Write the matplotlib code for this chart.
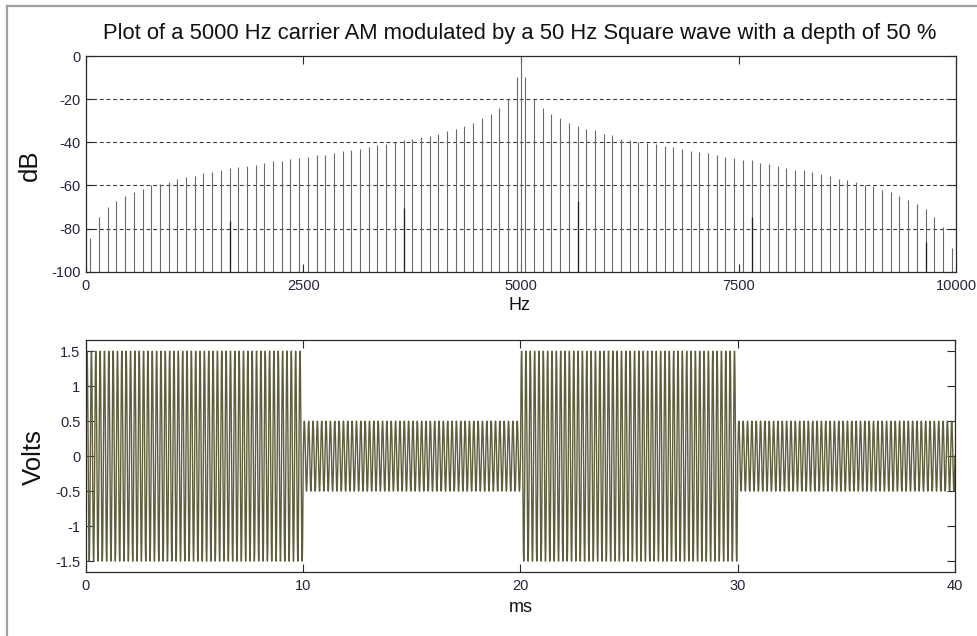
import numpy as np
import matplotlib
matplotlib.use("Agg")
import matplotlib.pyplot as plt
from matplotlib.lines import Line2D

plt.rcParams["font.family"] = ["Liberation Sans", "DejaVu Sans"]

# ---- spectrum: sideband lines (Hz) and their levels (dB) ----
sideband_hz = np.arange(50, 10000, 100)
sideband_db = [
    -84.4, -74.7, -70.0, -67.0, -65.0, -63.2, -61.6, -60.0, -59.4, -58.4,
    -57.1, -56.1, -55.6, -54.2, -53.6, -52.7, -51.9, -51.6, -51.0, -50.5,
    -49.5, -48.9, -48.6, -47.7, -47.3, -46.7, -46.1, -45.8, -44.9, -44.2,
    -43.6, -43.0, -42.4, -41.4, -40.8, -39.9, -38.9, -38.6, -37.7, -37.1,
    -36.1, -34.7, -33.7, -32.3, -31.1, -28.9, -26.7, -23.9, -19.8, -9.9,
    -9.9, -19.8, -23.9, -26.7, -28.9, -31.1, -32.3, -33.8, -34.5, -36.1,
    -36.8, -38.3, -38.9, -39.9, -40.2, -40.8, -41.7, -42.4, -43.0, -43.9,
    -44.5, -45.2, -46.1, -47.0, -47.3, -48.0, -48.2, -49.5, -50.1, -50.8,
    -51.7, -52.7, -52.9, -53.9, -54.5, -55.7, -56.8, -57.4, -58.5, -59.6,
    -60.2, -62.1, -63.2, -65.0, -66.6, -68.6, -70.9, -74.8, -79.1, -88.9,
]
carrier_hz = 5000
carrier_db = 0.0
# secondary (leakage) components every 2 kHz
leak_hz = [1650, 3650, 5650, 7650, 9650]
leak_db = [-76.6, -70.4, -67.0, -74.8, -86.0]

freq_ticks = [0, 2500, 5000, 7500, 10000]
freq_ticklabels = ["0", "2500", "5000", "7500", "10000"]
db_ticks = [-100, -80, -60, -40, -20, 0]
db_ticklabels = ["-100", "-80", "-60", "-40", "-20", "0"]
db_grid = [-80, -60, -40, -20]

# ---- time signal: AM with square-wave modulation ----
mod_hz = 50
depth = 0.50
duration_s = 0.040
sample_rate = 100000

time_ticks = [0, 10, 20, 30, 40]
time_ticklabels = ["0", "10", "20", "30", "40"]
volt_ticks = [-1.5, -1, -0.5, 0, 0.5, 1, 1.5]
volt_ticklabels = ["-1.5", "-1", "-0.5", "0", "0.5", "1", "1.5"]

t = np.arange(int(round(duration_s * sample_rate)) + 1) / sample_rate
square = np.where(np.floor(t * 2 * mod_hz + 1e-9) % 2 == 0, 1.0, -1.0)
signal = (1.0 + depth * square) * np.sin(2 * np.pi * carrier_hz * t)
t_ms = t * 1000.0

# ---- figure ----
W, H = 978, 636
fig = plt.figure(figsize=(W / 100, H / 100), dpi=100)
fig.patch.set_facecolor("white")


def fx(px):
    return px / W


def fy(py):
    return 1 - py / H


tick_color = "#24243c"
spine_color = "#2a2a2a"

# window frame
fig.add_artist(Line2D([fx(7), fx(7)], [fy(6), 0], color="#a0a0a0", lw=1.6))
fig.add_artist(Line2D([fx(7), 1], [fy(6), fy(6)], color="#a0a0a0", lw=1.6))

# spectrum axes
ax1 = fig.add_axes([fx(86), fy(271.7), fx(956) - fx(86), fy(56) - fy(271.7)])
for y in db_grid:
    ax1.axhline(y, color="#3c3c3c", lw=0.8, ls=(0, (3.5, 2.5)), zorder=1)
ax1.vlines(sideband_hz, -100, sideband_db, colors="#6a6a6a", lw=0.8, zorder=2)
ax1.vlines([carrier_hz], -100, [carrier_db], colors="#6a6a6a", lw=0.8, zorder=2)
ax1.vlines(leak_hz, -100, leak_db, colors="#1e1e1e", lw=0.9, zorder=3)
ax1.set_xlim(0, 10000)
ax1.set_ylim(-100, 0)
ax1.set_xticks(freq_ticks)
ax1.set_xticklabels(freq_ticklabels)
ax1.set_yticks(db_ticks)
ax1.set_yticklabels(db_ticklabels)

# time axes
ax2 = fig.add_axes([fx(86), fy(572.3), fx(955) - fx(86), fy(340) - fy(572.3)])
ax2.plot(t_ms, signal, color="#5e5e3c", lw=1.0)
ax2.set_xlim(0, 40)
ax2.set_ylim(-1.66, 1.66)
ax2.set_xticks(time_ticks)
ax2.set_xticklabels(time_ticklabels)
ax2.set_yticks(volt_ticks)
ax2.set_yticklabels(volt_ticklabels)

for ax in (ax1, ax2):
    ax.tick_params(direction="in", length=6, width=0.8, top=True, right=True,
                   colors=spine_color, labelcolor=tick_color, labelsize=10.5)
    ax.tick_params(axis="x", pad=5)
    ax.tick_params(axis="y", pad=4)
    for s in ax.spines.values():
        s.set_color(spine_color)
        s.set_linewidth(0.9)

fig.text(fx(520), fy(34),
         "Plot of a 5000 Hz carrier AM modulated by a 50 Hz Square wave with a depth of 50 %",
         ha="center", va="center", fontsize=15.8, color="#111111")
fig.text(fx(30), fy(165), "dB", rotation=90, ha="center", va="center",
         fontsize=18.5, color="#111111")
fig.text(fx(519), fy(306), "Hz", ha="center", va="center", fontsize=13,
         color="#111111")
fig.text(fx(34), fy(457), "Volts", rotation=90, ha="center", va="center",
         fontsize=18.5, color="#111111")
fig.text(fx(521), fy(608), "ms", ha="center", va="center", fontsize=13,
         color="#111111")

fig.savefig("out.png", dpi=100, facecolor="white")
